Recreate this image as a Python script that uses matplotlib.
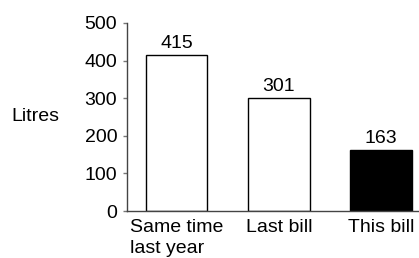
import matplotlib.pyplot as plt

categories = ['Same time\nlast year', 'Last bill', 'This bill']
litres = [415, 301, 163]
colours = ['white', 'white', 'black']
yticks = [0, 100, 200, 300, 400, 500]

plt.rcParams['font.family'] = ['Liberation Sans', 'DejaVu Sans']
fs = 14

fig = plt.figure(figsize=(4.19, 2.58), dpi=100)
ax = fig.add_axes([0.303, 0.182, 0.697, 0.729])

x = range(len(categories))
bars = ax.bar(x, litres, width=0.6, color=colours, edgecolor='black', linewidth=1)
for b, v in zip(bars, litres):
    ax.text(b.get_x() + b.get_width() / 2, v + 8, str(v),
            ha='center', va='bottom', fontsize=fs)

ax.set_xlim(-0.484, 2.37)
ax.set_ylim(0, 500)
ax.set_yticks(yticks)
ax.set_xticks(list(x))
ax.set_xticklabels(categories, fontsize=fs, linespacing=1.3, multialignment='left')
ax.tick_params(axis='x', length=0, pad=6)
ax.tick_params(axis='y', length=3, width=1, color='#777777', pad=4, labelsize=fs)

for s in ['top', 'right']:
    ax.spines[s].set_visible(False)
for s in ['left', 'bottom']:
    ax.spines[s].set_color('#444444')
    ax.spines[s].set_linewidth(1)

fig.text(35 / 419, 1 - 117 / 258, 'Litres', ha='center', va='center', fontsize=fs)

fig.savefig('out.png', dpi=100)
